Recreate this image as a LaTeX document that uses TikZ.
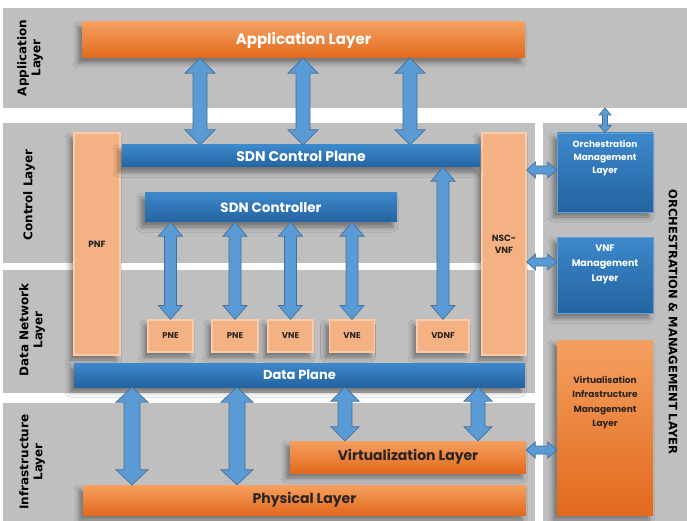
\documentclass[tikz,border=0pt]{standalone}
\usepackage{fontspec}
\setmainfont{Poppins}
\newfontfamily\labelfont{DejaVu Sans}
\usetikzlibrary{calc,shadows.blur}

\definecolor{bandgray}{HTML}{BFBFBF}
\definecolor{arrowblue}{HTML}{5B9BD5}
\definecolor{arrowedge}{HTML}{41719C}
\definecolor{bluetop}{HTML}{3D88CC}
\definecolor{bluebot}{HTML}{2463A0}
\definecolor{orangetop}{HTML}{F5A060}
\definecolor{orangebot}{HTML}{E2691D}
\definecolor{peach}{HTML}{F4B183}
\definecolor{peachedge}{HTML}{F9CBA8}
\definecolor{darktext}{HTML}{2A2420}

% vertical double block arrow: x-source, upper anchor, lower anchor,
% head half width, shaft half width, head length
\newcommand\vdbl[6]{%
  \draw[blockarrow] let \p1=(#1 |- #2), \p2=(#1 |- #3) in
    (\x1,\y1) -- (\x1+#4pt,\y1-#6pt) -- (\x1+#5pt,\y1-#6pt) -- (\x1+#5pt,\y2+#6pt)
    -- (\x1+#4pt,\y2+#6pt) -- (\x1,\y2) -- (\x1-#4pt,\y2+#6pt) -- (\x1-#5pt,\y2+#6pt)
    -- (\x1-#5pt,\y1-#6pt) -- (\x1-#4pt,\y1-#6pt) -- cycle;}
% horizontal double block arrow: y-source, left anchor, right anchor,
% head half height, shaft half height, head length
\newcommand\hdbl[6]{%
  \draw[blockarrow] let \p1=(#2 |- #1), \p2=(#3 |- #1) in
    (\x1,\y1) -- (\x1+#6pt,\y1+#4pt) -- (\x1+#6pt,\y1+#5pt) -- (\x2-#6pt,\y1+#5pt)
    -- (\x2-#6pt,\y1+#4pt) -- (\x2,\y1) -- (\x2-#6pt,\y1-#4pt) -- (\x2-#6pt,\y1-#5pt)
    -- (\x1+#6pt,\y1-#5pt) -- (\x1+#6pt,\y1-#4pt) -- cycle;}

\begin{document}
\begin{tikzpicture}[x=1pt,y=-1pt,
  band/.style={fill=bandgray},
  shade/.style={blur shadow={shadow xshift=-4pt,shadow yshift=-5pt,shadow blur radius=5pt,shadow opacity=40}},
  box/.style={rectangle,inner sep=0pt,align=center,shade},
  bluebar/.style={box,top color=bluetop,bottom color=bluebot,text=white,font=\bfseries\fontsize{14}{16}\selectfont},
  orangebar/.style={box,top color=orangetop,bottom color=orangebot,font=\bfseries\fontsize{14}{16}\selectfont},
  peachbox/.style={box,fill=peach,draw=peachedge,line width=1.2pt,text=darktext,font=\bfseries\fontsize{8.5}{12}\selectfont},
  mgmtbox/.style={box,top color=bluetop,bottom color=bluebot,draw=bluetop!80!white,line width=0.8pt},
  mgmttext/.style={align=center,inner sep=0pt,font=\bfseries\fontsize{9}{13}\selectfont},
  sidelabel/.style={align=center,inner sep=0pt,rotate=90,font=\labelfont\bfseries\fontsize{12}{14}\selectfont,text=black},
  blockarrow/.style={fill=arrowblue,draw=arrowedge,line width=0.7pt,line join=miter}]

\useasboundingbox (0,0) rectangle (687,521);
\fill[white] (0,0) rectangle (687,521);

% layer bands
\fill[band] (3,8) rectangle (687,108);
\fill[band] (3,123) rectangle (535,263);
\fill[band] (3,270) rectangle (535,393);
\fill[band] (3,403) rectangle (535,521);
\fill[band] (543,123) rectangle (687,521);
\coordinate (appband) at (605,108);

% band titles
\node[sidelabel] (lapp) at (30,58) {Application\\Layer};
\node[sidelabel] (lctl) at (29,195) {Control Layer};
\node[sidelabel] (ldata) at (32,330) {Data Network\\Layer};
\node[sidelabel] (linfra) at (32,462) {Infrastructure\\Layer};
\node[sidelabel,rotate=180,font=\labelfont\bfseries\fontsize{11.5}{14}\selectfont] (lorch) at (673,322) {ORCHESTRATION \& MANAGEMENT LAYER};

% main blocks
\node[orangebar,text=white,minimum width=443,minimum height=36,font=\bfseries\fontsize{15}{17}\selectfont] (app) at (303.5,40) {Application Layer};
\node[peachbox,minimum width=46,minimum height=222,font=\bfseries\fontsize{9}{12}\selectfont] (pnf) at (97,244) {PNF};
\node[peachbox,minimum width=44,minimum height=222,font=\bfseries\fontsize{9}{12}\selectfont] (nsc) at (504,244) {NSC-\\VNF};
\node[bluebar,minimum width=358,minimum height=22] (cplane) at (301,156) {SDN Control Plane};
\node[bluebar,minimum width=252,minimum height=29,font=\bfseries\fontsize{13.5}{16}\selectfont] (ctrl) at (271,207.5) {SDN Controller};
\node[peachbox,minimum width=45,minimum height=32] (pne1) at (170.5,336) {PNE};
\node[peachbox,minimum width=46,minimum height=32] (pne2) at (235,336) {PNE};
\node[peachbox,minimum width=45,minimum height=32] (vne1) at (290.5,336) {VNE};
\node[peachbox,minimum width=45,minimum height=32] (vne2) at (352,336) {VNE};
\node[peachbox,minimum width=52,minimum height=32] (vdnf) at (443,336) {VDNF};
\node[bluebar,minimum width=451,minimum height=24,font=\bfseries\fontsize{13}{15}\selectfont] (dplane) at (299.5,375) {Data Plane};
\node[orangebar,text=darktext,minimum width=236,minimum height=32] (virt) at (408,457) {Virtualization Layer};
\node[orangebar,text=darktext,minimum width=443,minimum height=30] (phys) at (304.5,500) {Physical Layer};

% management column
\node[mgmtbox,minimum width=96,minimum height=79] (om) at (605,172.5) {};
\node[mgmttext,text=white,anchor=north] (omt) at ([yshift=-7]om.north) {Orchestration\\Management\\Layer};
\node[mgmtbox,minimum width=96,minimum height=76] (vm) at (605,275) {};
\node[mgmttext,text=white,anchor=north,font=\bfseries\fontsize{9.5}{15}\selectfont] (vmt) at ([yshift=-8]vm.north) {VNF\\Management\\Layer};
\node[box,top color=orangetop,bottom color=orangebot,minimum width=96,minimum height=175] (vim) at (605,427.5) {};
\node[mgmttext,text=darktext,anchor=north,font=\bfseries\fontsize{9}{14.5}\selectfont] (vimt) at ([yshift=-36]vim.north) {Virtualisation\\Infrastructure\\Management\\Layer};

% application <-> control plane
\vdbl{200,0}{app.south}{cplane.north}{15}{7}{15}
\vdbl{303,0}{app.south}{cplane.north}{15}{7}{15}
\vdbl{410,0}{app.south}{cplane.north}{15}{7}{15}

% controller <-> network elements
\vdbl{pne1}{ctrl.south}{pne1.north}{12}{6}{14}
\vdbl{pne2}{ctrl.south}{pne2.north}{12}{6}{14}
\vdbl{vne1}{ctrl.south}{vne1.north}{12}{6}{14}
\vdbl{vne2}{ctrl.south}{vne2.north}{12}{6}{14}
\vdbl{vdnf}{cplane.south}{vdnf.north}{12}{6}{14}

% data plane <-> infrastructure
\vdbl{132,0}{dplane.south}{phys.north}{16}{8}{15}
\vdbl{237,0}{dplane.south}{phys.north}{16}{8}{15}
\vdbl{345,0}{dplane.south}{virt.north}{14}{7}{14}
\vdbl{478,0}{dplane.south}{virt.north}{14}{7}{14}

% links to the management column
\vdbl{appband}{appband}{om.north}{6}{2.5}{7}
\hdbl{0,170}{nsc.east}{om.west}{8}{4}{9}
\hdbl{0,262}{nsc.east}{vm.west}{8}{4}{9}
\hdbl{0,450}{virt.east}{vim.west}{8}{4}{9}
\end{tikzpicture}
\end{document}
